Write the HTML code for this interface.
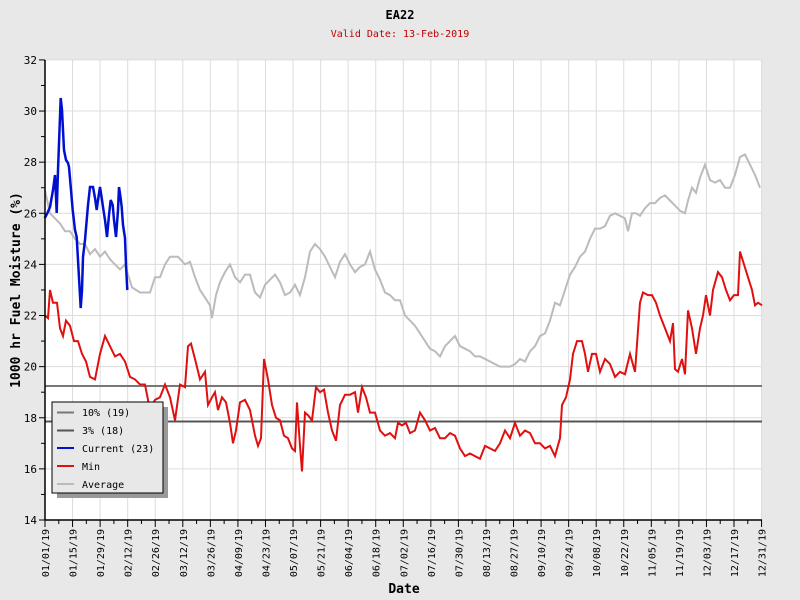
<!DOCTYPE html>
<html><head><meta charset="utf-8"><style>
body{margin:0;background:#e8e8e8}
svg{display:block;font-family:"DejaVu Sans Mono","Liberation Mono",monospace}
</style></head><body>
<svg id="s" width="800" height="600" xmlns="http://www.w3.org/2000/svg">
<rect width="800" height="600" fill="#e8e8e8"/>
<rect x="45" y="60" width="717" height="460" fill="#fff"/>
<g id="grid" stroke="#dcdcdc" stroke-width="1"></g>
<g id="ax"></g>
<line x1="45" y1="386" x2="762" y2="386" stroke="#777" stroke-width="2"/>
<line x1="45" y1="421.5" x2="762" y2="421.5" stroke="#555" stroke-width="2"/>
<polyline id="avg" fill="none" stroke="#bbb" stroke-width="2"/>
<polyline id="min" fill="none" stroke="#e01010" stroke-width="2"/>
<polyline id="cur" fill="none" stroke="#0010d0" stroke-width="2.5" points="44.7,218 47,214 50,207 53,190 55,175 56.7,213 58,170 60.7,98 62,110 63,130 64,150 66,160 68,163 69,167 71,190 72.7,210 75,230 76.7,237 78,260 80.7,308 82,290 83,257 85,240 88,205 90,187 93,187 95,198 96.7,210 98,200 100,187 102,200 103,207 105,220 107,237 109,215 110.7,200 112.7,205 114,220 116,237 118,210 119,187 120.5,197 121.7,207 123,225 125,238 126,265 127.3,290"/>
<line x1="45" y1="60" x2="45" y2="520" stroke="#000" stroke-width="1.5"/>
<line x1="45" y1="520" x2="762" y2="520" stroke="#000" stroke-width="1.5"/>
<text x="400" y="19" text-anchor="middle" font-size="12" font-weight="bold">EA22</text>
<text x="400" y="37" text-anchor="middle" font-size="10" fill="#c00000">Valid Date: 13-Feb-2019</text>
<text x="404" y="593" text-anchor="middle" font-size="13" font-weight="bold">Date</text>
<text transform="translate(20,290) rotate(-90)" text-anchor="middle" font-size="13" font-weight="bold">1000 hr Fuel Moisture (%)</text>
<rect x="57" y="407" width="111" height="91" fill="#999"/>
<rect x="52" y="402" width="111" height="91" fill="#e8e8e8" stroke="#000" stroke-width="1"/>
<g font-size="10">
<line x1="57" y1="412.5" x2="74" y2="412.5" stroke="#777" stroke-width="2"/><text x="82" y="416">10% (19)</text>
<line x1="57" y1="430.5" x2="74" y2="430.5" stroke="#555" stroke-width="2"/><text x="82" y="434">3% (18)</text>
<line x1="57" y1="448" x2="74" y2="448" stroke="#0010d0" stroke-width="2"/><text x="82" y="452">Current (23)</text>
<line x1="57" y1="466" x2="74" y2="466" stroke="#e01010" stroke-width="2"/><text x="82" y="470">Min</text>
<line x1="57" y1="484" x2="74" y2="484" stroke="#bbb" stroke-width="2"/><text x="82" y="488">Average</text>
</g>
</svg>
<script>
var Y=function(v){return 520-(v-14)*25.56};
var g=document.getElementById('grid'),ax=document.getElementById('ax'),ns='http://www.w3.org/2000/svg';
function el(p,t,a,txt){var e=document.createElementNS(ns,t);for(var k in a)e.setAttribute(k,a[k]);if(txt)e.textContent=txt;p.appendChild(e);return e}
for(var v=14;v<=32;v++){var y=Y(v);
 if(v%2==0){ if(v>14)el(g,'line',{x1:45,x2:762,y1:y,y2:y});
  el(ax,'line',{x1:39,x2:45,y1:y,y2:y,stroke:'#000'});
  el(ax,'text',{x:37,y:y+4,'text-anchor':'end','font-size':'11'},String(v));}
 else el(ax,'line',{x1:41,x2:45,y1:y,y2:y,stroke:'#000'});}
var labs=['01/01/19','01/15/19','01/29/19','02/12/19','02/26/19','03/12/19','03/26/19','04/09/19','04/23/19','05/07/19','05/21/19','06/04/19','06/18/19','07/02/19','07/16/19','07/30/19','08/13/19','08/27/19','09/10/19','09/24/19','10/08/19','10/22/19','11/05/19','11/19/19','12/03/19','12/17/19','12/31/19'];
for(var i=0;i<labs.length;i++){var x=45+i*27.56;
 if(i>0)el(g,'line',{x1:x,x2:x,y1:60,y2:520});
 el(ax,'line',{x1:x,x2:x,y1:520,y2:527,stroke:'#000'});
 if(i<26)el(ax,'line',{x1:x+13.78,x2:x+13.78,y1:520,y2:524,stroke:'#000'});
 el(ax,'text',{transform:'translate('+(x+4)+',529) rotate(-90)','text-anchor':'end','font-size':'10'},labs[i]);}
function pts(a){var s=[];for(var i=0;i<a.length;i+=2)s.push(a[i]+','+Y(a[i+1]).toFixed(1));return s.join(' ')}
document.getElementById('avg').setAttribute('points',pts([45,26.9,50,26,55,25.8,60,25.6,65,25.3,70,25.3,75,25.0,80,24.8,85,24.8,90,24.4,95,24.6,100,24.3,105,24.5,110,24.2,115,24.0,120,23.8,125,24.0,128,23.6,132,23.1,140,22.9,150,22.9,155,23.5,160,23.5,165,24.0,170,24.3,178,24.3,185,24.0,190,24.1,195,23.5,200,23.0,205,22.7,210,22.4,212,21.9,216,22.8,220,23.3,225,23.7,230,24.0,235,23.5,240,23.3,245,23.6,250,23.6,255,22.9,260,22.7,265,23.2,270,23.4,275,23.6,280,23.3,285,22.8,290,22.9,295,23.2,300,22.8,305,23.5,310,24.5,315,24.8,320,24.6,325,24.3,330,23.9,335,23.5,340,24.1,345,24.4,350,24.0,355,23.7,360,23.9,365,24.0,370,24.5,375,23.8,380,23.4,385,22.9,390,22.8,395,22.6,400,22.6,405,22.0,410,21.8,415,21.6,420,21.3,425,21.0,430,20.7,435,20.6,440,20.4,445,20.8,450,21.0,455,21.2,460,20.8,465,20.7,470,20.6,475,20.4,480,20.4,490,20.2,495,20.1,500,20.0,510,20.0,515,20.1,520,20.3,525,20.2,530,20.6,535,20.8,540,21.2,545,21.3,550,21.8,555,22.5,560,22.4,565,23.0,570,23.6,575,23.9,580,24.3,585,24.5,590,25.0,595,25.4,600,25.4,605,25.5,610,25.9,615,26.0,620,25.9,625,25.8,628,25.3,632,26.0,636,26.0,640,25.9,645,26.2,650,26.4,655,26.4,660,26.6,665,26.7,670,26.5,675,26.3,680,26.1,685,26.0,688,26.5,692,27.0,696,26.8,700,27.4,705,27.9,710,27.3,715,27.2,720,27.3,725,27.0,730,27.0,735,27.5,740,28.2,745,28.3,750,27.9,755,27.5,760,27.0]));
document.getElementById('min').setAttribute('points',pts([45,22,48,21.9,50,23,53,22.5,57,22.5,60,21.5,63,21.2,66,21.8,70,21.6,74,21,78,21,82,20.5,86,20.2,90,19.6,95,19.5,100,20.5,105,21.2,110,20.8,115,20.4,120,20.5,125,20.2,130,19.6,135,19.5,140,19.3,145,19.3,150,18.3,155,18.7,160,18.8,165,19.3,170,18.8,175,17.9,180,19.3,185,19.2,188,20.8,191,20.9,195,20.3,200,19.5,205,19.8,208,18.5,212,18.8,215,19,218,18.3,222,18.8,226,18.6,230,17.8,233,17.0,236,17.5,240,18.6,245,18.7,250,18.3,255,17.3,258,16.9,261,17.2,264,20.3,268,19.5,272,18.5,276,18,280,17.9,284,17.3,288,17.2,292,16.8,295,16.7,297,18.6,300,16.9,302,15.9,305,18.2,308,18.1,312,17.9,316,19.2,320,19,324,19.1,328,18.2,332,17.5,336,17.1,340,18.5,345,18.9,350,18.9,355,19,358,18.2,362,19.2,366,18.8,370,18.2,375,18.2,380,17.5,385,17.3,390,17.4,395,17.2,398,17.8,402,17.7,406,17.8,410,17.4,415,17.5,420,18.2,425,17.9,430,17.5,435,17.6,440,17.2,445,17.2,450,17.4,455,17.3,460,16.8,465,16.5,470,16.6,475,16.5,480,16.4,485,16.9,490,16.8,495,16.7,500,17,505,17.5,510,17.2,515,17.8,520,17.3,525,17.5,530,17.4,535,17,540,17,545,16.8,550,16.9,555,16.5,560,17.2,562,18.5,566,18.8,570,19.5,573,20.5,577,21,582,21,585,20.5,588,19.8,592,20.5,596,20.5,600,19.8,605,20.3,610,20.1,615,19.6,620,19.8,625,19.7,630,20.5,635,19.8,640,22.5,643,22.9,648,22.8,652,22.8,656,22.5,660,22,665,21.5,670,21,673,21.7,675,19.9,678,19.8,682,20.3,685,19.7,688,22.2,692,21.5,696,20.5,700,21.5,703,22,706,22.8,710,22,713,23,718,23.7,722,23.5,726,23,730,22.6,734,22.8,738,22.8,740,24.5,744,24,748,23.5,752,23,755,22.4,758,22.5,762,22.4]));
</script>
</body></html>
